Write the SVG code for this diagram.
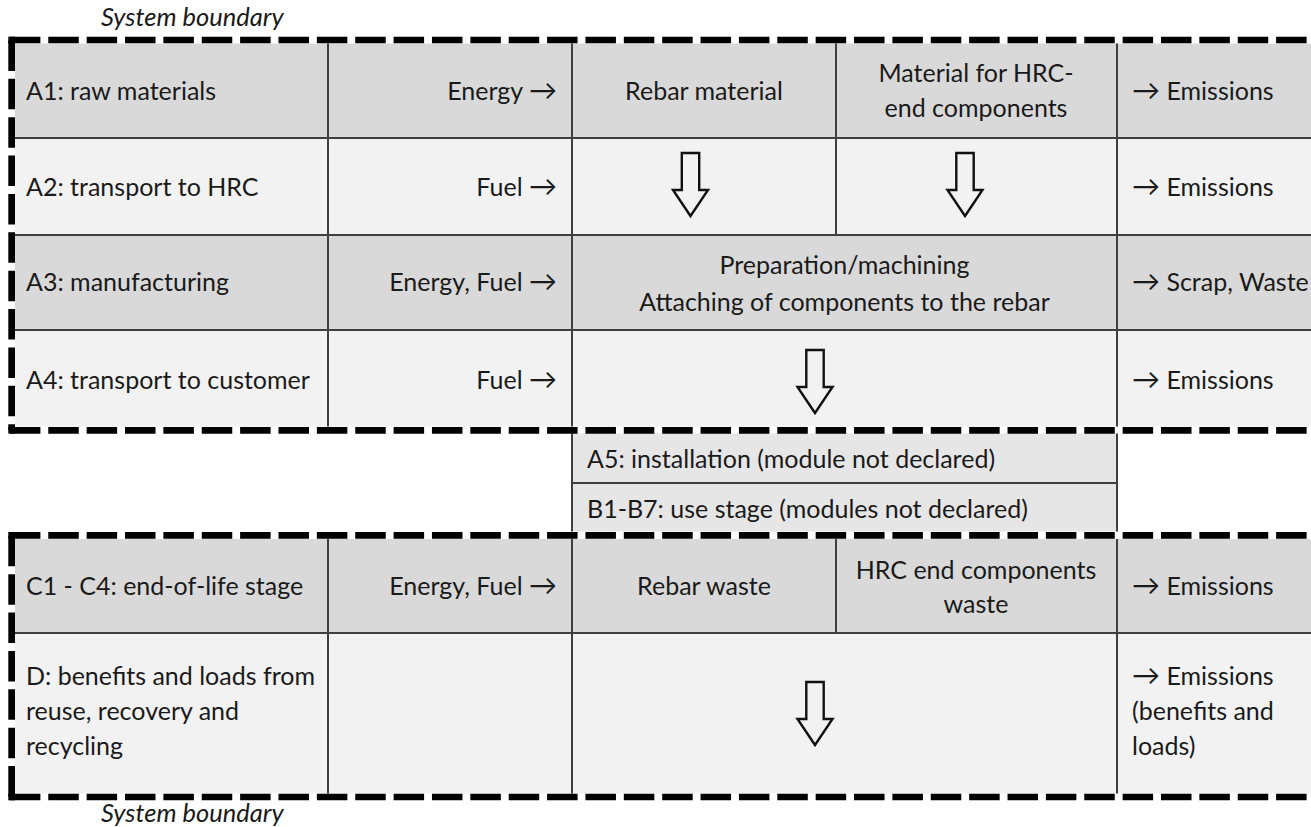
<svg xmlns="http://www.w3.org/2000/svg" xmlns:xlink="http://www.w3.org/1999/xlink" width="1311" height="827" viewBox="0 0 1311 827">
<style>
text{font-family:"Lato","Liberation Sans",sans-serif;font-size:25px;fill:#1a1a1a}
.it{font-style:italic;font-size:25.5px}
.r{text-anchor:end}
.c{text-anchor:middle}
.a{font-size:28px}
.dk{fill:#d9d9d9}
.lt{fill:#f2f2f2}
.md{fill:#e7e6e6}
.g{stroke:#3f3f3f;stroke-width:2;fill:none}
.bd{stroke:#000;stroke-width:6.7;fill:none;stroke-dasharray:30.5 7.87}
.ar{fill:none;stroke:#111;stroke-width:2.4;stroke-linejoin:miter}
</style>
<defs>
<path id="blockArrow" d="M-8.7 0H8.7V37H17.5L0 63L-17.5 37H-8.7Z"/>
</defs>
<rect width="1311" height="827" fill="#fff"/>

<text id="label-top" class="it" x="101" y="26">System boundary</text>
<text id="label-bottom" class="it" x="101" y="822">System boundary</text>

<g id="row-A1">
<rect class="dk" x="15" y="43.5" width="1296" height="94.5"/>
<text x="26" y="100">A1: raw materials</text>
<text class="r" x="557" y="100">Energy <tspan class="a">→</tspan></text>
<text class="c" x="704" y="100">Rebar material</text>
<text class="c" x="976" y="82">Material for HRC-</text>
<text class="c" x="976" y="117">end components</text>
<text x="1132" y="100"><tspan class="a">→</tspan> Emissions</text>
</g>
<g id="row-A2">
<rect class="lt" x="15" y="138" width="1296" height="97"/>
<text x="26" y="196">A2: transport to HRC</text>
<text class="r" x="557" y="196">Fuel <tspan class="a">→</tspan></text>
<text x="1132" y="196"><tspan class="a">→</tspan> Emissions</text>
</g>
<g id="row-A3">
<rect class="dk" x="15" y="235" width="1296" height="95"/>
<text x="26" y="291">A3: manufacturing</text>
<text class="r" x="557" y="291">Energy, Fuel <tspan class="a">→</tspan></text>
<text class="c" x="844.5" y="274">Preparation/machining</text>
<text class="c" x="844.5" y="311">Attaching of components to the rebar</text>
<text x="1132" y="291"><tspan class="a">→</tspan> Scrap, Waste</text>
</g>
<g id="row-A4">
<rect class="lt" x="15" y="330" width="1296" height="96.5"/>
<text x="26" y="389">A4: transport to customer</text>
<text class="r" x="557" y="389">Fuel <tspan class="a">→</tspan></text>
<text x="1132" y="389"><tspan class="a">→</tspan> Emissions</text>
</g>
<g id="row-A5">
<rect class="md" x="572" y="433.5" width="545" height="49.5"/>
<text x="587" y="468">A5: installation (module not declared)</text>
</g>
<g id="row-B">
<rect class="md" x="572" y="483" width="545" height="48.5"/>
<text x="587" y="518">B1-B7: use stage (modules not declared)</text>
</g>
<g id="row-C">
<rect class="dk" x="15" y="539" width="1296" height="94"/>
<text x="26" y="595">C1 - C4: end-of-life stage</text>
<text class="r" x="557" y="595">Energy, Fuel <tspan class="a">→</tspan></text>
<text class="c" x="704" y="595">Rebar waste</text>
<text class="c" x="976" y="579">HRC end components</text>
<text class="c" x="976" y="613">waste</text>
<text x="1132" y="595"><tspan class="a">→</tspan> Emissions</text>
</g>
<g id="row-D">
<rect class="lt" x="15" y="633" width="1296" height="160.5"/>
<text x="26" y="685">D: benefits and loads from</text>
<text x="26" y="720">reuse, recovery and</text>
<text x="26" y="755">recycling</text>
<text x="1132" y="685"><tspan class="a">→</tspan> Emissions</text>
<text x="1132" y="720">(benefits and</text>
<text x="1132" y="755">loads)</text>
</g>

<g id="grid">
<path class="g" d="M15 138H1311M15 235H1311M15 330H1311M15 633H1311M572 483H1117"/>
<path class="g" d="M328 43.5V426.5M572 43.5V426.5M1117 43.5V426.5M836 43.5V235"/>
<path class="g" d="M572 433.5V531.5M1117 433.5V531.5"/>
<path class="g" d="M328 539V793.5M572 539V793.5M1117 539V793.5M836 539V633"/>
</g>

<g id="connectors">
<use xlink:href="#blockArrow" href="#blockArrow" class="ar" x="690.5" y="153"/>
<use xlink:href="#blockArrow" href="#blockArrow" class="ar" x="965" y="153"/>
<use xlink:href="#blockArrow" href="#blockArrow" class="ar" x="815" y="350"/>
<use xlink:href="#blockArrow" href="#blockArrow" class="ar" x="815" y="682"/>
</g>

<g id="system-boundary">
<path class="bd" d="M9.9 40H1311"/>
<path class="bd" d="M11.65 40.5V430"/>
<path class="bd" d="M9.9 430.3H1311"/>
<rect x="8.3" y="36.7" width="6.7" height="6.7" fill="#000"/>
<rect x="8.3" y="426.9" width="6.7" height="6.7" fill="#000"/>
<path class="bd" d="M9.9 535.3H1311"/>
<path class="bd" d="M11.65 535.8V797"/>
<path class="bd" d="M9.9 797H1311"/>
<rect x="8.3" y="532" width="6.7" height="6.7" fill="#000"/>
<rect x="8.3" y="793.6" width="6.7" height="6.7" fill="#000"/>
</g>
</svg>
